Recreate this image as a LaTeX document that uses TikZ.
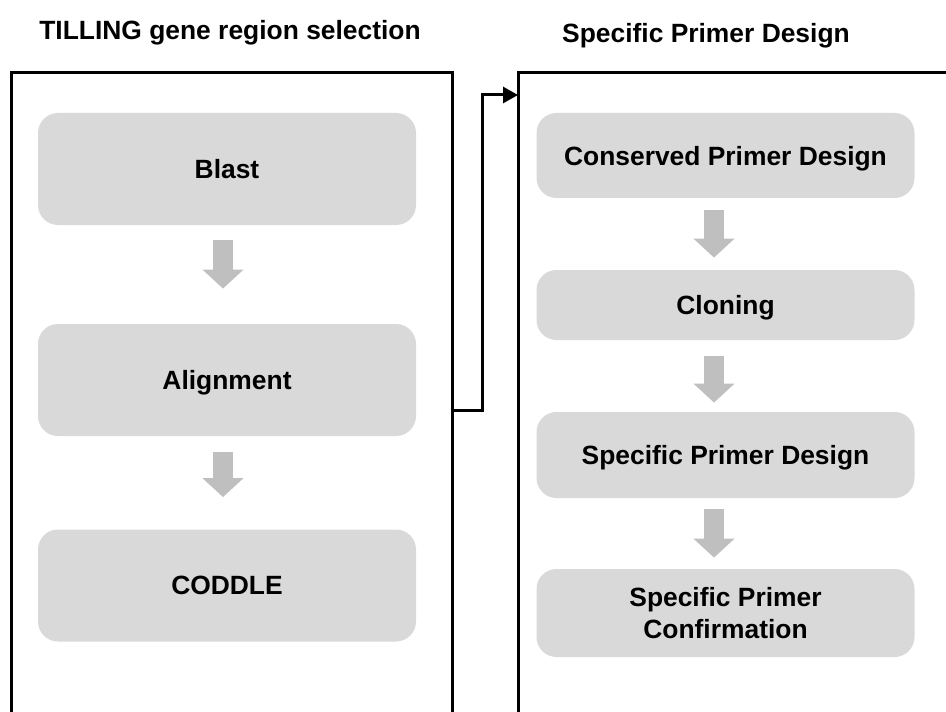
\documentclass[tikz,border=0pt]{standalone}
\usepackage{fontspec}
\setmainfont{Liberation Sans}
\usetikzlibrary{arrows.meta, positioning}
\definecolor{boxgray}{HTML}{D9D9D9}
\definecolor{arrgray}{HTML}{BFBFBF}
\tikzset{
  box/.style={fill=boxgray, rounded corners=10pt, minimum width=189pt, minimum height=#1,
    inner sep=0pt, align=center, font=\fontsize{13.2}{15.8}\selectfont\bfseries},
  oneline/.style={text depth=0pt},
  title/.style={inner sep=0pt, text depth=0pt, font=\fontsize{13.2}{15.8}\selectfont\bfseries},
  arr/.style={draw=arrgray, line width=10pt, -{Triangle[length=9.5pt, width=20pt]}},
  frame/.style={draw, line width=1.5pt},
  link/.style={draw, line width=1.5pt, -{Triangle[length=7.5pt, width=8pt]}},
}
\begin{document}
\begin{tikzpicture}[x=0.5pt, y=-0.5pt]
  \useasboundingbox (0,0) rectangle (946,711);
  % titles
  \node[title] (ltitle) at (230,30) {TILLING gene region selection};
  \node[title] (rtitle) at (706,33) {Specific Primer Design};
  % frames
  \draw[frame] (11,716) -- (11,73) -- (452,73) -- (452,716);
  \draw[frame] (518,716) -- (518,73) -- (952,73);
  % left column
  \node[box=56pt, oneline] (blast) at (227,169) {Blast};
  \node[box=56pt, oneline] (align) at (227,380) {Alignment};
  \node[box=56pt, oneline] (coddle) at (227,585.5) {CODDLE};
  \draw[arr, shorten <=7.5pt, shorten >=17.5pt] ([xshift=-2pt]blast.south) -- ([xshift=-2pt]align.north);
  \draw[arr, shorten <=8pt, shorten >=16pt] ([xshift=-2pt]align.south) -- ([xshift=-2pt]coddle.north);
  % right column
  \node[box=42.5pt, oneline] (conserved) at (725.5,155.5) {Conserved Primer Design};
  \node[box=35pt, oneline] (cloning) at (725.5,305) {Cloning};
  \node[box=43pt, oneline] (specific) at (725.5,455) {Specific Primer Design};
  \node[box=44pt] (confirm) at (725.5,613) {Specific Primer\\Confirmation};
  \draw[arr, shorten <=6pt, shorten >=6pt] ([xshift=-5.75pt]conserved.south) -- ([xshift=-5.75pt]cloning.north);
  \draw[arr, shorten <=8pt, shorten >=4.5pt] ([xshift=-5.75pt]cloning.south) -- ([xshift=-5.75pt]specific.north);
  \draw[arr, shorten <=5.5pt, shorten >=5.5pt] ([xshift=-5.75pt]specific.south) -- ([xshift=-5.75pt]confirm.north);
  % link between frames
  \coordinate (lout) at (452,410);
  \coordinate (rin) at (518,95);
  \draw[link] (lout) -- ++(30,0) |- (rin);
\end{tikzpicture}
\end{document}
